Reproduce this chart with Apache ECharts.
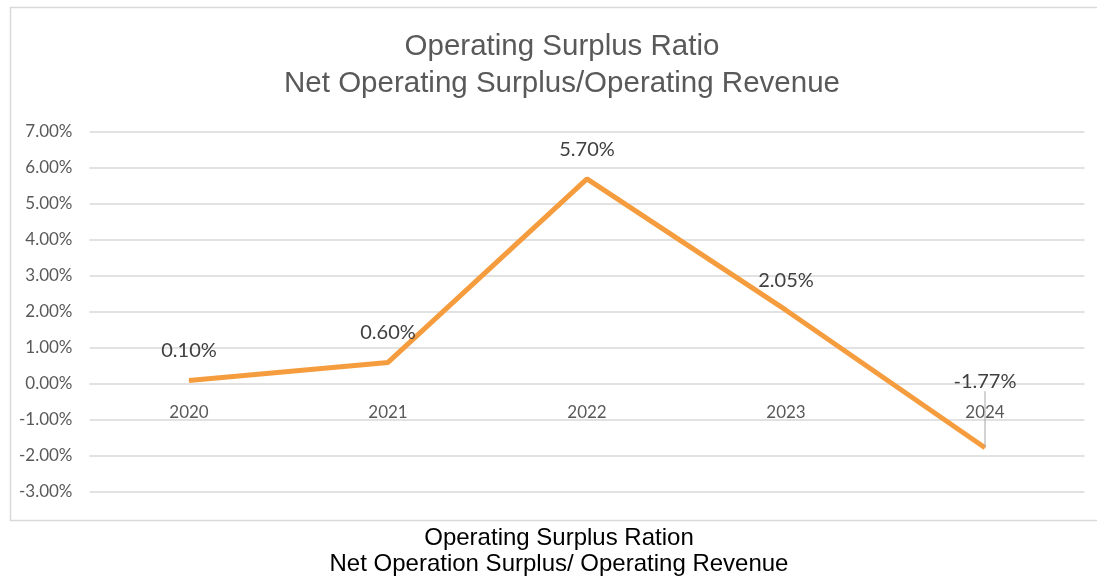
<!DOCTYPE html>
<html>
<head>
<meta charset="utf-8">
<script src="https://cdn.jsdelivr.net/npm/echarts@6/dist/echarts.min.js"></script>
<style>
  html, body { margin: 0; padding: 0; background: #fff; }
  #main { width: 1097px; height: 578px; }
</style>
</head>
<body>
<div id="main"></div>
<script>
var years = ['2020', '2021', '2022', '2023', '2024'];
var ratios = [0.10, 0.60, 5.70, 2.05, -1.77];
var yMin = -3, yMax = 7, yStep = 1;

var chart = echarts.init(document.getElementById('main'));

var seriesData = ratios.map(function (v, i) {
    if (i === 4) {
        return { value: v, labelLine: { show: true, lineStyle: { color: '#a6a6a6', width: 1 } } };
    }
    return v;
});

var option = {
    animation: false,
    graphic: [{
        type: 'rect',
        left: 8, top: 5,
        shape: { width: 1100, height: 513 },
        style: { fill: 'none', stroke: '#d9d9d9', lineWidth: 1.5 }
    }],
    title: [{
        text: 'Operating Surplus Ratio\nNet Operating Surplus/Operating Revenue',
        left: 557, top: 23, textAlign: 'center',
        textStyle: { fontFamily: 'Liberation Sans', fontSize: 29.5, fontWeight: 'normal', color: '#595959', lineHeight: 37 }
    }, {
        text: 'Operating Surplus Ration\nNet Operation Surplus/ Operating Revenue',
        left: 554, top: 520, textAlign: 'center',
        textStyle: { fontFamily: 'Liberation Sans', fontSize: 24, fontWeight: 'normal', color: '#000', lineHeight: 26 }
    }],
    grid: { left: 89.5, right: 12.5, top: 132, height: 360 },
    xAxis: {
        type: 'category',
        data: years,
        boundaryGap: true,
        offset: -108,
        axisLine: { show: false },
        axisTick: { show: false },
        axisLabel: { margin: 20, fontFamily: 'Lato', fontSize: 17, color: '#595959' }
    },
    yAxis: {
        type: 'value',
        min: yMin, max: yMax, interval: yStep,
        axisLine: { show: false },
        axisTick: { show: false },
        splitLine: { lineStyle: { color: '#d9d9d9', width: 1.5 } },
        axisLabel: {
            margin: 17, fontFamily: 'Lato', fontSize: 17, color: '#595959',
            formatter: function (v) { return v.toFixed(2) + '%'; }
        }
    },
    series: [{
        type: 'line',
        data: seriesData,
        showSymbol: true,
        symbol: 'circle',
        symbolSize: 1,
        itemStyle: { color: '#F59D3E' },
        lineStyle: { color: '#F59D3E', width: 5 },
        label: {
            show: true, position: 'top', distance: 19,
            fontFamily: 'Lato', fontSize: 20, color: '#404040',
            formatter: function (p) { return p.value.toFixed(2) + '%'; }
        },
        labelLayout: function (p) {
            if (p.dataIndex === 4) return { dy: -37 };
        }
    }]
};
chart.setOption(option);
</script>
</body>
</html>
